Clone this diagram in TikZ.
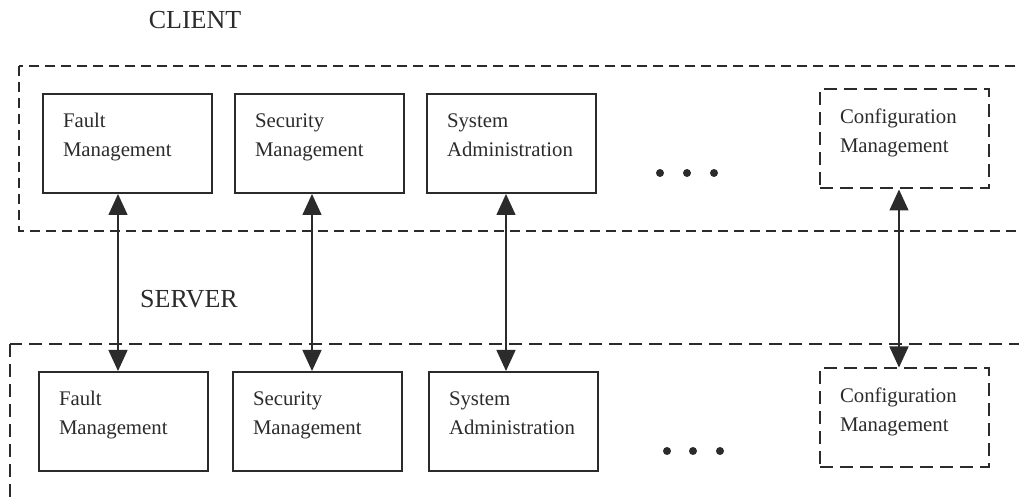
\documentclass[tikz,border=0pt]{standalone}
\usepackage{fontspec}
\setmainfont{Liberation Serif}
\usetikzlibrary{positioning,arrows.meta}
\definecolor{ink}{HTML}{2B2B2B}
\tikzset{mgmt/.style={draw=ink, line width=1pt, minimum width=84.5pt, minimum height=49.5pt, text width=64.5pt, inner xsep=10pt, inner ysep=0pt, align=left, text=ink, font=\fontsize{10.4}{14.5}\selectfont}}
\tikzset{mgmtd/.style={mgmt, dash pattern=on 6.5pt off 3.5pt}}
\tikzset{group/.style={draw=ink, line width=1pt, dash pattern=on 5pt off 3pt}}
\tikzset{side/.style={text=ink, font=\fontsize{13}{15}\selectfont}}
\tikzset{tip/.style={Triangle[length=10.5pt, width=9.5pt]}}
\tikzset{biarr/.style={draw=ink, line width=0.7pt, {Triangle[length=10.5pt, width=9.5pt]}-{Triangle[length=10.5pt, width=9.5pt]}}}
\tikzset{dot/.style={circle, fill=ink, inner sep=0pt, minimum size=4pt}}

\begin{document}
\begin{tikzpicture}[x=0.5pt, y=-0.5pt]
   \useasboundingbox (0,0) rectangle (1019,497);
   \clip (0,0) rectangle (1019,497);
   % client side
   \draw[group] (19,66) rectangle (1040,231);
   \node[side] (client) at (195,20) {CLIENT};
   \node[mgmt] (cfault) at (127.5,143.5) {Fault\\Management\\[-6pt]\mbox{}};
   \node[mgmt, right=10.5pt of cfault] (csec) {Security\\Management\\[-6pt]\mbox{}};
   \node[mgmt, right=10.5pt of csec] (csys) {System\\Administration\\[-6pt]\mbox{}};
   \node[mgmtd] (cconf) at (904.5,139) {Configuration\\Management\\[-6pt]\mbox{}};
   \foreach \x in {660,687,714}
       \node[dot] (cdot\x) at (\x,173) {};
   % server side
   \draw[group, dash pattern=on 6.5pt off 3.5pt] (10,344) rectangle (1040,520);
   \node[side] (server) at (189,299) {SERVER};
   \node[mgmt] (sfault) at (123.5,421.5) {Fault\\Management\\[-6pt]\mbox{}};
   \node[mgmt, right=11.5pt of sfault] (ssec) {Security\\Management\\[-6pt]\mbox{}};
   \node[mgmt, right=12.5pt of ssec] (ssys) {System\\Administration\\[-6pt]\mbox{}};
   \node[mgmtd] (sconf) at (904.5,418) {Configuration\\Management\\[-6pt]\mbox{}};
   \foreach \x in {667,693,720}
       \node[dot] (sdot\x) at (\x,451) {};
   % links
   \draw[biarr] ([xshift=-4.75pt]cfault.south) -- ([xshift=-2.75pt]sfault.north);
   \draw[biarr] ([xshift=-3.75pt]csec.south) -- ([xshift=-2.75pt]ssec.north);
   \draw[biarr] ([xshift=-2.75pt]csys.south) -- ([xshift=-3.75pt]ssys.north);
   \draw[biarr] ([xshift=-2.75pt]cconf.south) -- ([xshift=-2.75pt]sconf.north);
\end{tikzpicture}
\end{document}
